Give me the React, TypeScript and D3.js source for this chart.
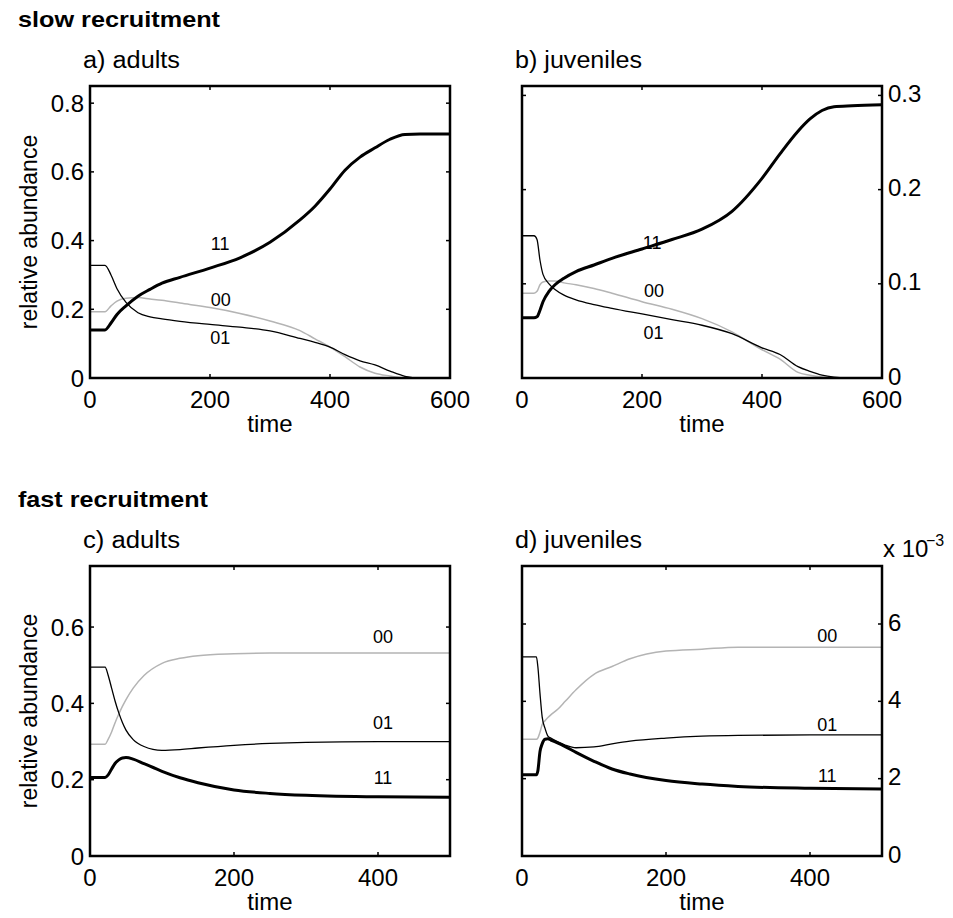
import React from 'react';
import { scaleLinear, line, curveMonotoneX } from 'd3';

// ---- data ----
const slowTime = [0, 25, 35, 45, 60, 80, 100, 120, 150, 200, 250, 300, 350, 375, 400, 425, 450, 475, 500, 525, 550, 600];
const slowAdult11 = [0.14, 0.14, 0.16, 0.185, 0.21, 0.238, 0.258, 0.276, 0.293, 0.32, 0.35, 0.395, 0.46, 0.5, 0.55, 0.605, 0.643, 0.67, 0.695, 0.709, 0.71, 0.71];
const slowAdult01 = [0.328, 0.328, 0.3, 0.26, 0.22, 0.19, 0.178, 0.172, 0.165, 0.156, 0.148, 0.137, 0.115, 0.104, 0.09, 0.068, 0.05, 0.038, 0.02, 0.005, 0, 0];
const slowAdult00 = [0.193, 0.193, 0.21, 0.224, 0.232, 0.234, 0.23, 0.226, 0.218, 0.205, 0.188, 0.166, 0.138, 0.114, 0.09, 0.062, 0.032, 0.014, 0.006, 0, 0, 0];

const slowJuvTime = [0, 20, 25, 30, 35, 45, 55, 70, 90, 120, 150, 200, 250, 300, 350, 400, 430, 460, 480, 500, 520, 550, 600];
const slowJuv11 = [0.064, 0.064, 0.065, 0.072, 0.081, 0.092, 0.099, 0.106, 0.113, 0.12, 0.127, 0.137, 0.147, 0.158, 0.177, 0.212, 0.238, 0.262, 0.275, 0.284, 0.288, 0.289, 0.29];
const slowJuv01 = [0.151, 0.151, 0.147, 0.125, 0.11, 0.1, 0.094, 0.088, 0.083, 0.078, 0.074, 0.068, 0.062, 0.056, 0.047, 0.032, 0.025, 0.012, 0.007, 0.003, 0.001, 0, 0];
const slowJuv00 = [0.09, 0.09, 0.092, 0.099, 0.102, 0.103, 0.103, 0.101, 0.099, 0.095, 0.09, 0.081, 0.073, 0.063, 0.049, 0.03, 0.02, 0.006, 0.003, 0.001, 0, 0, 0];

const fastTime = [0, 21, 25, 30, 35, 40, 45, 50, 60, 75, 100, 125, 150, 200, 250, 300, 400, 500];
const fastAdult00 = [0.293, 0.293, 0.305, 0.325, 0.35, 0.372, 0.392, 0.41, 0.44, 0.473, 0.505, 0.518, 0.525, 0.53, 0.532, 0.532, 0.532, 0.532];
const fastAdult01 = [0.495, 0.495, 0.475, 0.44, 0.405, 0.375, 0.35, 0.33, 0.305, 0.287, 0.277, 0.279, 0.283, 0.29, 0.295, 0.298, 0.3, 0.3];
const fastAdult11 = [0.206, 0.206, 0.212, 0.228, 0.243, 0.252, 0.257, 0.258, 0.254, 0.242, 0.222, 0.205, 0.192, 0.173, 0.164, 0.159, 0.155, 0.154];

const fastJuvTime = [0, 20, 22, 25, 28, 32, 36, 40, 50, 60, 75, 100, 125, 150, 200, 250, 300, 400, 500];
const fastJuv00 = [0.00302, 0.00302, 0.00305, 0.0032, 0.0034, 0.0035, 0.00358, 0.00365, 0.0038, 0.004, 0.0043, 0.0047, 0.0049, 0.0051, 0.0053, 0.00535, 0.0054, 0.0054, 0.0054];
const fastJuv01 = [0.00515, 0.00515, 0.0049, 0.0042, 0.0036, 0.0033, 0.0031, 0.00305, 0.00295, 0.00287, 0.0028, 0.00282, 0.0029, 0.00297, 0.00305, 0.0031, 0.00312, 0.00313, 0.00313];
const fastJuv11 = [0.0021, 0.0021, 0.0022, 0.0027, 0.0029, 0.00302, 0.00303, 0.003, 0.00292, 0.00283, 0.00268, 0.00245, 0.00225, 0.00212, 0.00195, 0.00186, 0.0018, 0.00175, 0.00173];

const slowXTicks = [0, 200, 400, 600];
const fastXTicks = [0, 200, 400];
const adultYTicksSlow = [0, 0.2, 0.4, 0.6, 0.8];
const juvYTicksSlow = [0, 0.1, 0.2, 0.3];
const adultYTicksFast = [0, 0.2, 0.4, 0.6];
const juvYTicksFast = [0, 0.002, 0.004, 0.006];

const FONT = '"Liberation Sans", Arial, Helvetica, sans-serif';

const STYLES = {
  '11': { stroke: '#000', width: 3 },
  '01': { stroke: '#000', width: 1.3 },
  '00': { stroke: '#b4b4b4', width: 1.5 },
};

const panels = [
  {
    title: 'a) adults', titleLen: 97, left: 90, top: 86, bottom: 378, xMax: 600, yMax: 0.85,
    xTicks: slowXTicks, yTicks: adultYTicksSlow, side: 'left', fmt: (v) => String(+v.toFixed(1)),
    time: slowTime,
    series: [['00', slowAdult00], ['01', slowAdult01], ['11', slowAdult11]],
    labels: [['11', 217, 0.39], ['00', 218, 0.227], ['01', 217, 0.116]],
  },
  {
    title: 'b) juveniles', titleLen: 127, left: 522, top: 86, bottom: 378, xMax: 600, yMax: 0.31,
    xTicks: slowXTicks, yTicks: juvYTicksSlow, side: 'right', fmt: (v) => String(+v.toFixed(1)),
    time: slowJuvTime,
    series: [['00', slowJuv00], ['01', slowJuv01], ['11', slowJuv11]],
    labels: [['11', 217, 0.143], ['00', 220, 0.092], ['01', 219, 0.048]],
  },
  {
    title: 'c) adults', titleLen: 97, left: 90, top: 566, bottom: 856, xMax: 500, yMax: 0.76,
    xTicks: fastXTicks, yTicks: adultYTicksFast, side: 'left', fmt: (v) => String(+v.toFixed(1)),
    time: fastTime,
    series: [['00', fastAdult00], ['01', fastAdult01], ['11', fastAdult11]],
    labels: [['00', 407, 0.575], ['01', 407, 0.348], ['11', 407, 0.204]],
  },
  {
    title: 'd) juveniles', titleLen: 127, left: 522, top: 566, bottom: 856, xMax: 500, yMax: 0.0075,
    xTicks: fastXTicks, yTicks: juvYTicksFast, side: 'right', fmt: (v) => String(Math.round(v * 1000)),
    time: fastJuvTime,
    series: [['00', fastJuv00], ['01', fastJuv01], ['11', fastJuv11]],
    labels: [['00', 424, 0.00569], ['01', 424, 0.0034], ['11', 424, 0.00208]],
  },
];

const W = 360;

const Panel = ({ p }) => {
  const x = scaleLinear().domain([0, p.xMax]).range([p.left, p.left + W]);
  const y = scaleLinear().domain([0, p.yMax]).range([p.bottom, p.top]);
  const gen = line<number>()
    .x((d, i) => x(p.time[i]))
    .y((d) => y(d))
    .curve(curveMonotoneX);
  const right = p.left + W;
  return (
    <g>
      <text x={p.left - 7} y={p.top - 18} fontSize={23} textLength={p.titleLen} lengthAdjust="spacingAndGlyphs">{p.title}</text>
      {p.series.map(([name, vals]) => (
        <path key={name} d={gen(vals) || ''} fill="none" stroke={STYLES[name].stroke}
          strokeWidth={STYLES[name].width} strokeLinejoin="round" />
      ))}
      {p.labels.map(([name, t, v]) => (
        <text key={name} x={x(t)} y={y(v)} fontSize={18} textAnchor="middle" dominantBaseline="central">{name}</text>
      ))}
      <rect x={p.left} y={p.top} width={W} height={p.bottom - p.top} fill="none" stroke="#000" strokeWidth={2.5} />
      {p.xTicks.map((t) => (
        <g key={'x' + t}>
          <line x1={x(t)} x2={x(t)} y1={p.bottom} y2={p.bottom - 4} stroke="#000" strokeWidth={1.5} />
          <line x1={x(t)} x2={x(t)} y1={p.top} y2={p.top + 4} stroke="#000" strokeWidth={1.5} />
          <text x={x(t)} y={p.bottom + 30} fontSize={24} textAnchor="middle">{t}</text>
        </g>
      ))}
      {p.yTicks.map((v) => (
        <g key={'y' + v}>
          <line x1={p.left} x2={p.left + 4} y1={y(v)} y2={y(v)} stroke="#000" strokeWidth={1.5} />
          <line x1={right} x2={right - 4} y1={y(v)} y2={y(v)} stroke="#000" strokeWidth={1.5} />
          {p.side === 'left' ? (
            <text x={p.left - 6} y={y(v)} fontSize={24} textAnchor="end" dominantBaseline="central">{p.fmt(v)}</text>
          ) : (
            <text x={right + 6} y={y(v) - 2} fontSize={24} textAnchor="start" dominantBaseline="central">{p.fmt(v)}</text>
          )}
        </g>
      ))}
      <text x={p.left + W / 2} y={p.bottom + 54} fontSize={24} textAnchor="middle">time</text>
      {p.side === 'left' && (
        <text transform={`translate(37,${(p.top + p.bottom) / 2}) rotate(-90)`} fontSize={23} textAnchor="middle">
          relative abundance
        </text>
      )}
    </g>
  );
};

const App = () => {
  return (
    <svg width={953} height={918} style={{ position: 'absolute', left: 0, top: 0, background: '#fff' }}
      fontFamily={FONT}>
      <rect width={953} height={918} fill="#fff" />
      <text x={18} y={27} fontSize={22} fontWeight="bold" textLength={202} lengthAdjust="spacingAndGlyphs">slow recruitment</text>
      <text x={18} y={507} fontSize={22} fontWeight="bold" textLength={190} lengthAdjust="spacingAndGlyphs">fast recruitment</text>
      {panels.map((p) => <Panel key={p.title} p={p} />)}
      <text x={883} y={557} fontSize={24}>x 10</text>
      <text x={926} y={546} fontSize={16}>−3</text>
    </svg>
  );
};

export default App;
